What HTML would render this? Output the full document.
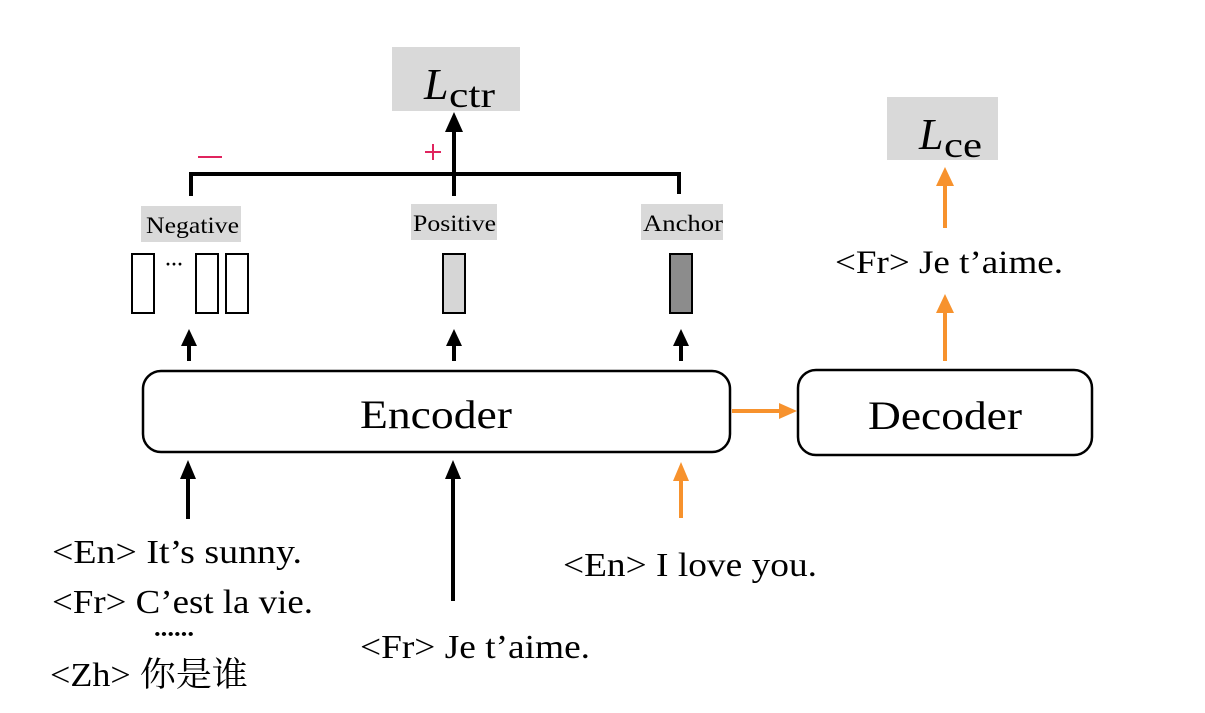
<!DOCTYPE html>
<html><head><meta charset="utf-8"><style>
html,body{margin:0;padding:0;background:#fff;}
svg{display:block}
text{font-family:"Liberation Serif","Noto Serif CJK SC",serif;fill:#000}
</style></head><body>
<svg width="1205" height="713" viewBox="0 0 1205 713" xmlns="http://www.w3.org/2000/svg">
<!-- Lctr -->
<rect x="392" y="47" width="128" height="64" fill="#d9d9d9"/>
<text x="424" y="99" font-size="44" font-style="italic">L</text>
<text x="449" y="107" font-size="36" textLength="46" lengthAdjust="spacingAndGlyphs">ctr</text>
<!-- Lce -->
<rect x="887" y="97" width="111" height="63" fill="#d9d9d9"/>
<text x="919" y="149" font-size="44" font-style="italic">L</text>
<text x="944" y="157" font-size="36" textLength="38" lengthAdjust="spacingAndGlyphs">ce</text>
<!-- bracket -->
<path d="M191,196 V174 H679 V194" fill="none" stroke="#000" stroke-width="4"/>
<line x1="454" y1="196" x2="454" y2="130" stroke="#000" stroke-width="4"/>
<polygon points="454,112 445,132 463,132" fill="#000"/>
<line x1="198" y1="157" x2="222" y2="157" stroke="#e0245e" stroke-width="2"/>
<line x1="425" y1="152" x2="441" y2="152" stroke="#e0245e" stroke-width="2"/>
<line x1="433" y1="144" x2="433" y2="160" stroke="#e0245e" stroke-width="2"/>
<!-- labels -->
<rect x="141" y="206" width="100" height="36" fill="#d9d9d9"/>
<text x="146" y="233" font-size="23" textLength="93" lengthAdjust="spacingAndGlyphs">Negative</text>
<rect x="411" y="204" width="86" height="36" fill="#d9d9d9"/>
<text x="413" y="231" font-size="23" textLength="83" lengthAdjust="spacingAndGlyphs">Positive</text>
<rect x="641" y="204" width="82" height="36" fill="#d9d9d9"/>
<text x="643" y="231" font-size="23" textLength="80" lengthAdjust="spacingAndGlyphs">Anchor</text>
<!-- bars -->
<rect x="132" y="254" width="22" height="59" fill="#fff" stroke="#000" stroke-width="2"/>
<text x="165" y="270" font-size="18" font-weight="bold">···</text>
<rect x="196" y="254" width="22" height="59" fill="#fff" stroke="#000" stroke-width="2"/>
<rect x="226" y="254" width="22" height="59" fill="#fff" stroke="#000" stroke-width="2"/>
<rect x="443" y="254" width="22" height="59" fill="#d6d6d6" stroke="#000" stroke-width="2"/>
<rect x="670" y="254" width="22" height="59" fill="#8c8c8c" stroke="#000" stroke-width="2"/>
<!-- small arrows -->
<g stroke="#000" stroke-width="4">
<line x1="189" y1="361" x2="189" y2="344"/><line x1="454" y1="361" x2="454" y2="344"/><line x1="681" y1="361" x2="681" y2="344"/>
</g>
<polygon points="189,329 181,346 197,346" fill="#000"/>
<polygon points="454,329 446,346 462,346" fill="#000"/>
<polygon points="681,329 673,346 689,346" fill="#000"/>
<!-- Encoder -->
<rect x="143" y="371" width="587" height="81" rx="18" fill="#fff" stroke="#000" stroke-width="2.5"/>
<text x="360" y="428" font-size="40" textLength="152" lengthAdjust="spacingAndGlyphs">Encoder</text>
<rect x="798" y="370" width="294" height="85" rx="18" fill="#fff" stroke="#000" stroke-width="2.5"/>
<text x="868" y="429" font-size="40" textLength="154" lengthAdjust="spacingAndGlyphs">Decoder</text>
<!-- orange enc->dec -->
<line x1="732" y1="411" x2="782" y2="411" stroke="#f7922d" stroke-width="4"/>
<polygon points="797,411 779,403 779,419" fill="#f7922d"/>
<!-- decoder arrows -->
<line x1="945" y1="361" x2="945" y2="310" stroke="#f7922d" stroke-width="4"/>
<polygon points="945,294 936,313 954,313" fill="#f7922d"/>
<line x1="945" y1="228" x2="945" y2="184" stroke="#f7922d" stroke-width="4"/>
<polygon points="945,167 936,186 954,186" fill="#f7922d"/>
<text x="835" y="273" font-size="33" textLength="228" lengthAdjust="spacingAndGlyphs">&lt;Fr&gt; Je t’aime.</text>
<!-- bottom arrows -->
<line x1="188" y1="519" x2="188" y2="476" stroke="#000" stroke-width="4"/>
<polygon points="188,460 180,479 196,479" fill="#000"/>
<line x1="453" y1="601" x2="453" y2="476" stroke="#000" stroke-width="4"/>
<polygon points="453,460 445,479 461,479" fill="#000"/>
<line x1="681" y1="518" x2="681" y2="478" stroke="#f7922d" stroke-width="4"/>
<polygon points="681,462 673,481 689,481" fill="#f7922d"/>
<!-- bottom texts -->
<text x="52" y="563" font-size="34" textLength="250" lengthAdjust="spacingAndGlyphs">&lt;En&gt; It’s sunny.</text>
<text x="52" y="613" font-size="34" textLength="261" lengthAdjust="spacingAndGlyphs">&lt;Fr&gt; C’est la vie.</text>
<text x="154" y="636" font-size="24" font-weight="bold" textLength="40" lengthAdjust="spacingAndGlyphs">......</text>
<text x="50" y="686" font-size="34" textLength="198" lengthAdjust="spacingAndGlyphs">&lt;Zh&gt; 你是谁</text>
<text x="360" y="658" font-size="34" textLength="230" lengthAdjust="spacingAndGlyphs">&lt;Fr&gt; Je t’aime.</text>
<text x="563" y="576" font-size="34" textLength="254" lengthAdjust="spacingAndGlyphs">&lt;En&gt; I love you.</text>
</svg>
</body></html>
